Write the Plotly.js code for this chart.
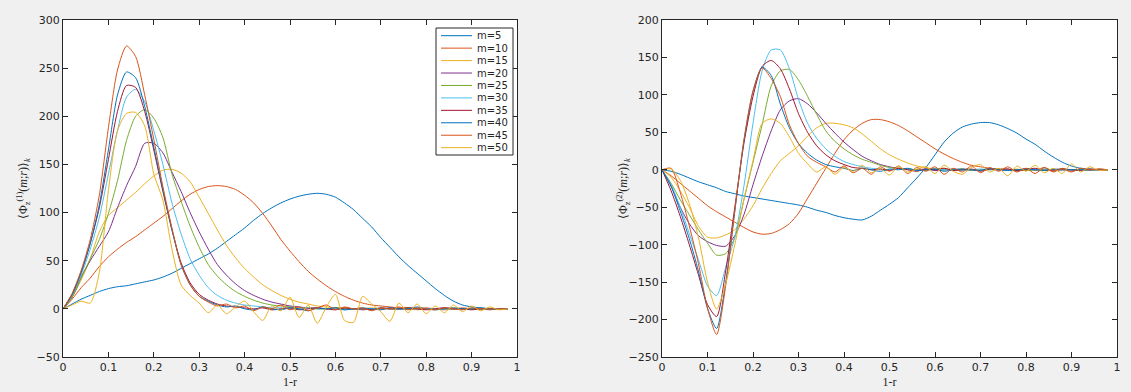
<!DOCTYPE html>
<html><head><meta charset="utf-8">
<script src="https://cdn.plot.ly/plotly-3.0.1.min.js"></script>
<style>html,body{margin:0;padding:0;background:#f0f0f0;} #chart{width:1131px;height:392px;}</style>
</head><body><div id="chart"></div>
<script>
// shared abscissa 1-r
const r = [0,0.02,0.04,0.06,0.08,0.10,0.12,0.14,0.16,0.18,0.20,0.22,0.24,0.26,0.28,0.30,0.32,0.34,0.36,0.38,0.40,0.42,0.44,0.46,0.48,0.50,0.52,0.54,0.56,0.58,0.60,0.62,0.64,0.66,0.68,0.70,0.72,0.74,0.76,0.78,0.80,0.82,0.84,0.86,0.88,0.90,0.92,0.94,0.96,0.98];
const mLabels = ['m=5','m=10','m=15','m=20','m=25','m=30','m=35','m=40','m=45','m=50'];
const yTitle1 = '⟨Φ<sub>z</sub><sup>(1)</sup>(<i>m</i>;<i>r</i>)⟩<sub><i>k</i></sub>';
const yTitle2 = '⟨Φ<sub>z</sub><sup>(2)</sup>(<i>m</i>;<i>r</i>)⟩<sub><i>k</i></sub>';
const xTitle = '1-r';

// Left panel: <Phi_z^(1)(m;r)>_k
const phi1_m5  = [0,5,10,14,18,21,23,24,26,28,30,33,37,42,47,52,57,63,70,77,84,92,99,105,110,114,117,119,120,119,116,110,103,94,85,74,64,54,45,37,29,21,14,8,4,2,1,0,0,0];
const phi1_m10 = [0,10,22,32,44,54,62,69,75,82,89,96,104,112,119,124,127,128,127,124,118,110,99,86,72,60,49,39,31,24,18,13,9,6,4,3,2,1,1,0,1,0,-1,0,1,0,0,-1,0,0];
const phi1_m15 = [0,12,30,52,80,97,105,113,121,130,138,144,145,141,132,116,99,82,66,53,42,33,25,19,14,10,7,5,3,2,1,1,0,0,1,0,0,0,0,-1,0,0,0,1,0,0,0,0,0,0];
const phi1_m20 = [0,12,33,50,65,80,105,128,148,172,172,162,142,122,100,80,62,46,35,26,19,14,10,7,5,3,2,1,1,0,1,0,0,-1,0,0,1,0,0,0,0,0,1,0,0,0,0,0,0,0];
const phi1_m25 = [0,12,32,52,72,99,133,175,200,207,198,178,140,112,86,64,46,34,25,18,13,9,6,4,3,2,1,1,0,0,1,0,0,0,-1,0,0,0,1,0,0,0,0,0,0,0,0,0,0,0];
const phi1_m30 = [0,14,35,62,95,140,185,220,228,215,185,150,110,78,52,35,22,14,9,6,4,3,2,1,1,0,0,1,0,0,0,-1,0,0,0,1,0,0,0,0,0,0,0,0,0,0,0,0,0,0];
const phi1_m35 = [0,15,38,68,105,155,205,232,230,205,165,122,82,48,27,15,9,5,3,2,1,0,1,-1,0,1,-1,0,1,0,-1,1,0,0,-1,1,0,0,1,0,-1,0,1,0,0,-1,0,0,0,0];
const phi1_m40 = [0,15,38,68,108,165,222,246,240,210,168,124,82,46,25,13,8,4,2,3,0,-1,2,0,-1,1,0,-2,1,0,1,-1,0,1,0,-1,1,0,0,2,0,-1,0,1,0,0,1,0,0,0];
const phi1_m45 = [0,16,40,72,118,188,248,273,262,222,176,127,84,46,25,13,7,3,5,1,3,-2,2,0,4,-1,2,-2,1,4,-1,2,0,1,-2,1,0,2,-1,1,0,-1,1,0,-1,1,0,0,0,0];
const phi1_m50 = [0,4,8,6,38,123,185,203,204,190,140,113,62,25,14,6,-4,4,-5,2,8,-3,-12,3,-2,12,-9,4,-15,2,15,-12,-14,13,5,-3,-13,6,-4,5,-5,3,-4,4,-3,3,-2,2,-1,0];

// Right panel: <Phi_z^(2)(m;r)>_k
const phi2_m5  = [0,-2,-6,-11,-16,-20,-24,-29,-32,-35,-37,-39,-41,-43,-45,-47,-50,-54,-57,-61,-64,-66,-67,-62,-54,-46,-37,-24,-11,3,20,37,49,57,61,63,63,60,55,49,41,34,25,17,10,5,2,1,0,0];
const phi2_m10 = [0,-8,-18,-28,-38,-48,-56,-63,-70,-77,-83,-86,-85,-80,-72,-58,-38,-18,2,22,40,53,62,67,67,64,59,52,44,36,28,21,15,10,6,4,2,1,1,-2,2,-1,3,-3,2,-2,1,-1,1,0];
const phi2_m15 = [0,-10,-28,-50,-75,-90,-91,-87,-80,-66,-48,-25,-5,12,22,32,45,56,62,62,60,56,48,38,28,20,14,9,5,3,1,2,-1,1,0,-1,1,0,0,1,-1,0,1,0,0,0,0,0,0,0];
const phi2_m20 = [0,-22,-50,-72,-88,-96,-101,-102,-88,-60,-20,18,52,80,92,95,88,76,62,49,37,27,18,12,7,4,2,1,0,1,-1,0,1,0,-1,0,1,0,0,0,1,0,0,-1,0,0,0,0,0,0];
const phi2_m25 = [0,-18,-40,-60,-80,-98,-114,-112,-90,-40,10,60,112,132,134,120,98,74,52,38,28,20,14,10,6,3,2,1,0,-1,1,0,0,1,-1,0,0,1,0,0,-1,0,0,0,1,0,0,0,0,0];
const phi2_m30 = [0,-20,-50,-85,-120,-155,-168,-130,-90,-22,62,132,160,160,135,94,62,42,28,18,11,7,4,2,1,0,1,0,-1,0,1,0,0,-1,0,1,0,0,0,-1,0,0,1,0,0,0,0,0,0,0];
const phi2_m35 = [0,-28,-62,-100,-140,-180,-196,-135,-50,35,98,138,146,135,108,75,50,32,20,12,7,3,2,0,1,-1,2,0,-2,1,0,2,-1,0,1,-2,1,0,1,-1,0,2,-1,0,1,0,-1,1,0,0];
const phi2_m40 = [0,-22,-55,-92,-135,-185,-212,-150,-55,38,105,137,126,88,56,35,22,13,7,4,2,-1,2,0,-2,1,0,2,-1,0,1,-2,0,1,0,-1,2,0,-1,0,1,0,-1,1,0,0,0,0,0,0];
const phi2_m45 = [0,2,-30,-75,-125,-185,-220,-155,-55,40,105,136,122,98,60,35,18,10,4,-3,5,-4,2,-6,4,-2,5,-5,3,-2,4,-6,2,-3,5,-4,3,-2,4,-3,2,-5,3,-2,1,-3,2,0,1,0];
const phi2_m50 = [0,1,-14,-45,-90,-150,-186,-152,-100,-40,12,62,68,62,44,22,8,-3,4,-6,3,-2,6,-4,2,-7,5,-3,1,4,-5,6,-2,-6,3,7,-3,2,-8,5,-2,6,-4,2,-5,8,-3,4,-1,0];

const phi1 = [phi1_m5,phi1_m10,phi1_m15,phi1_m20,phi1_m25,phi1_m30,phi1_m35,phi1_m40,phi1_m45,phi1_m50];
const phi2 = [phi2_m5,phi2_m10,phi2_m15,phi2_m20,phi2_m25,phi2_m30,phi2_m35,phi2_m40,phi2_m45,phi2_m50];
const colors = ['#0072BD','#D95319','#EDB120','#7E2F8E','#77AC30','#4DBEEE','#A2142F','#0072BD','#D95319','#EDB120'];

const W = 1131, H = 392;
const traces = [];
mLabels.forEach((name, i) => {
  traces.push({x: r, y: phi1[i], type: 'scatter', mode: 'lines', name: name,
    line: {color: colors[i], width: 1, shape: 'spline', smoothing: 0.7}, xaxis: 'x', yaxis: 'y', showlegend: false, hoverinfo: 'skip'});
});
mLabels.forEach((name, i) => {
  traces.push({x: r, y: phi2[i], type: 'scatter', mode: 'lines', name: name,
    line: {color: colors[i], width: 1, shape: 'spline', smoothing: 0.7}, xaxis: 'x2', yaxis: 'y2', showlegend: false, hoverinfo: 'skip'});
});

const axColor = '#262626';
const tickFont = {family: 'DejaVu Sans, sans-serif', size: 11, color: '#262626'};
const titleFont = {family: 'Liberation Serif, serif', size: 12, color: '#262626'};
function xax(domain) {
  return {domain: domain, range: [0, 1], tickmode: 'linear', tick0: 0, dtick: 0.1,
    showline: true, mirror: 'ticks', ticks: 'inside', ticklen: 5, tickwidth: 1, tickcolor: axColor,
    linecolor: axColor, linewidth: 1, showgrid: false, zeroline: false, tickfont: tickFont,
    title: {text: xTitle, font: titleFont, standoff: 4}};
}
function yax(range, domain) {
  return {domain: domain, range: range, tickmode: 'linear', tick0: 0, dtick: 50,
    showline: true, mirror: 'ticks', ticks: 'inside', ticklen: 5, tickwidth: 1, tickcolor: axColor,
    linecolor: axColor, linewidth: 1, showgrid: false, zeroline: false, tickfont: tickFont};
}
const yDom = [35 / H, 372 / H];

// legend (drawn manually to match compact MATLAB legend)
const shapes = [{type: 'rect', xref: 'paper', yref: 'paper', x0: 436 / W, x1: 513 / W,
  y0: 1 - 155 / H, y1: 1 - 28 / H, fillcolor: '#ffffff', line: {color: axColor, width: 1}, layer: 'above'}];
const annotations = [];
mLabels.forEach((name, i) => {
  const yc = 35.7 + i * 12.44;
  shapes.push({type: 'line', xref: 'paper', yref: 'paper', x0: 441 / W, x1: 472 / W,
    y0: 1 - yc / H, y1: 1 - yc / H, line: {color: colors[i], width: 1}, layer: 'above'});
  annotations.push({xref: 'paper', yref: 'paper', x: 475 / W, y: 1 - yc / H, xanchor: 'left', yanchor: 'middle',
    text: name, showarrow: false, font: {family: 'DejaVu Sans, sans-serif', size: 10, color: '#262626'}});
});
// y-axis titles placed like MATLAB ylabels
annotations.push({xref: 'paper', yref: 'paper', x: 23 / W, y: 1 - 189 / H, xanchor: 'center', yanchor: 'middle',
  textangle: -90, text: yTitle1, showarrow: false, font: titleFont});
annotations.push({xref: 'paper', yref: 'paper', x: 623 / W, y: 1 - 189 / H, xanchor: 'center', yanchor: 'middle',
  textangle: -90, text: yTitle2, showarrow: false, font: titleFont});

const layout = {
  width: W, height: H, paper_bgcolor: '#f0f0f0', plot_bgcolor: '#ffffff',
  margin: {l: 0, r: 0, t: 0, b: 0, pad: 0}, showlegend: false,
  xaxis: xax([63 / W, 517 / W]),
  yaxis: yax([-50, 300], yDom),
  xaxis2: Object.assign(xax([662 / W, 1117 / W]), {anchor: 'y2'}),
  yaxis2: Object.assign(yax([-250, 200], yDom), {anchor: 'x2'}),
  shapes: shapes, annotations: annotations
};
layout.xaxis.anchor = 'y';
layout.yaxis.anchor = 'x';
Plotly.newPlot('chart', traces, layout, {displayModeBar: false, staticPlot: true});
</script>
</body></html>
